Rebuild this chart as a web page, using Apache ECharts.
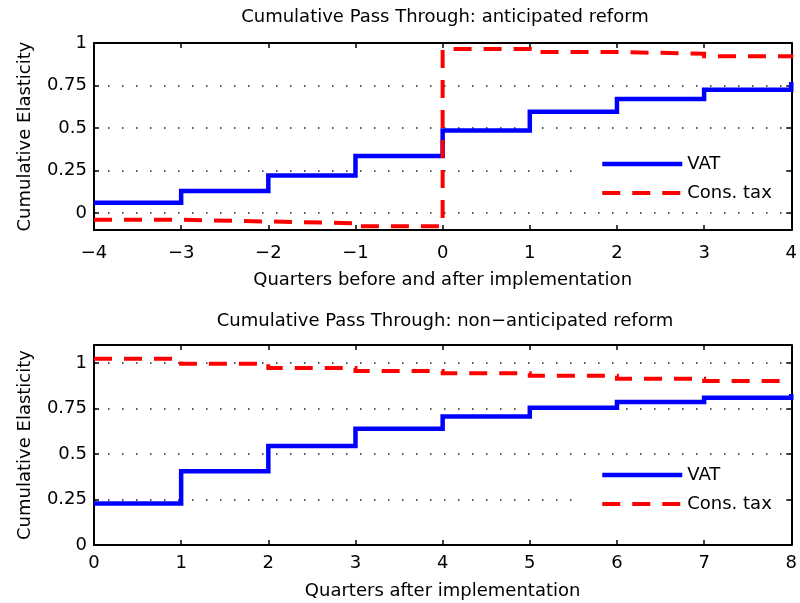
<!DOCTYPE html>
<html>
<head>
<meta charset="utf-8">
<script src="https://cdn.jsdelivr.net/npm/echarts@6/dist/echarts.min.js"></script>
<style>
html,body{margin:0;padding:0;background:#fff;}
#chart{width:800px;height:603px;}
</style>
</head>
<body>
<div id="chart"></div>
<script>
// ---- data ----
const quartersTop = [-4, -3, -2, -1, 0, 1, 2, 3, 4];
const vatTop = [0.06, 0.13, 0.22, 0.335, 0.485, 0.595, 0.67, 0.725, 0.77];
const consTop = [-0.04, -0.05, -0.06, -0.078, 0.965, 0.947, 0.937, 0.922, 0.91];

const quartersBottom = [0, 1, 2, 3, 4, 5, 6, 7, 8];
const vatBottom = [0.228, 0.405, 0.545, 0.64, 0.707, 0.755, 0.786, 0.81, 0.83];
const consBottom = [1.025, 0.997, 0.974, 0.957, 0.944, 0.931, 0.915, 0.902, 0.90];

const yTicks = [0, 0.25, 0.5, 0.75, 1];
const titles = ['Cumulative Pass Through: anticipated reform', 'Cumulative Pass Through: non\u2212anticipated reform'];
const xNames = ['Quarters before and after implementation', 'Quarters after implementation'];
const yName = 'Cumulative Elasticity';
const seriesNames = ['VAT', 'Cons. tax'];

// ---- chart ----
const FONT = 'DejaVu Sans';
const BLUE = '#0000ff', RED = '#ff0000';
const DASH = [18, 12];
const chart = echarts.init(document.getElementById('chart'));

const axisLineStyle = {show: true, onZero: false, lineStyle: {color: '#000', width: 2}};
const tickStyle = {show: true, inside: true, length: 5, lineStyle: {color: '#000', width: 1.5}};
const labelStyle = {color: '#000', fontFamily: FONT, fontSize: 18};
const fmtX = v => String(v).replace('-', '\u2212');

function xAxes(grid, min, max, margin, nameGap) {
  return [
    {type: 'value', gridIndex: grid, min: min, max: max, interval: 1, position: 'bottom',
     axisLine: axisLineStyle, axisTick: tickStyle,
     axisLabel: Object.assign({formatter: fmtX, margin: margin}, labelStyle),
     splitLine: {show: false},
     name: xNames[grid], nameLocation: 'middle', nameGap: nameGap,
     nameTextStyle: {color: '#000', fontFamily: FONT, fontSize: 18}},
    {type: 'value', gridIndex: grid, min: min, max: max, interval: 1, position: 'top',
     axisLine: axisLineStyle, axisTick: tickStyle, axisLabel: {show: false}, splitLine: {show: false}}
  ];
}
function yAxes(grid, min, max) {
  return [
    {type: 'value', gridIndex: grid, min: min, max: max, position: 'left',
     axisLine: axisLineStyle,
     axisTick: Object.assign({customValues: yTicks}, tickStyle),
     axisLabel: Object.assign({customValues: yTicks, margin: 7, formatter: v => String(v)}, labelStyle),
     splitLine: {show: true, lineStyle: {color: '#222', width: 1.5, type: [1.5, 12.5]}},
     name: yName, nameLocation: 'middle', nameGap: 60,
     nameTextStyle: {color: '#000', fontFamily: FONT, fontSize: 18}},
    {type: 'value', gridIndex: grid, min: min, max: max, position: 'right',
     axisLine: axisLineStyle,
     axisTick: Object.assign({customValues: yTicks}, tickStyle),
     axisLabel: {show: false, customValues: yTicks}, splitLine: {show: false}}
  ];
}

function mkSeries(name, xs, ys, xi, yi, color, dashed, z) {
  return {
    name: name, type: 'line', step: 'end', xAxisIndex: xi, yAxisIndex: yi,
    data: xs.map((x, i) => [x, ys[i]]),
    showSymbol: false, symbol: 'none', z: z,
    lineStyle: {color: color, width: dashed ? 4 : 4.5, type: dashed ? DASH : 'solid', cap: 'butt', join: 'miter'},
    itemStyle: {color: color},
    emphasis: {disabled: true}
  };
}

function legend(top, suffix) {
  return {
    show: true, orient: 'vertical', left: 577, top: top,
    backgroundColor: '#fff', padding: [10, 14, 8, 23],
    itemWidth: 80, itemHeight: 18, itemGap: 11,
    textStyle: {color: '#000', fontFamily: FONT, fontSize: 18, lineHeight: 18},
    itemStyle: {opacity: 0},
    formatter: n => n.trim(),
    data: [
      {name: seriesNames[0] + suffix, itemStyle: {opacity: 0},
       lineStyle: {color: BLUE, width: 4.5, type: 'solid', cap: 'butt'}},
      {name: seriesNames[1] + suffix, itemStyle: {opacity: 0},
       lineStyle: {color: RED, width: 4, type: DASH, cap: 'butt'}}
    ],
    selectedMode: false
  };
}

const option = {
  animation: false,
  backgroundColor: '#fff',
  title: [
    {text: titles[0], left: 445, top: 8, textAlign: 'center', padding: 0,
     textStyle: {color: '#000', fontFamily: FONT, fontSize: 18, fontWeight: 'normal'}},
    {text: titles[1], left: 445, top: 312, textAlign: 'center', padding: 0,
     textStyle: {color: '#000', fontFamily: FONT, fontSize: 18, fontWeight: 'normal'}}
  ],
  grid: [
    {left: 94, right: 2, top: 43, height: 187},
    {left: 94, right: 2, top: 345, height: 200}
  ],
  xAxis: [].concat(xAxes(0, -4, 4, 14, 41), xAxes(1, 0, 8, 9, 37)),
  yAxis: [].concat(yAxes(0, -0.1, 1), yAxes(1, 0, 1.1)),
  legend: [legend(145, ''), legend(456, ' ')],
  series: [
    mkSeries(seriesNames[1], quartersTop, consTop, 0, 0, RED, true, 3),
    mkSeries(seriesNames[0], quartersTop, vatTop, 0, 0, BLUE, false, 2),
    mkSeries(seriesNames[0] + ' ', quartersBottom, vatBottom, 2, 2, BLUE, false, 2),
    mkSeries(seriesNames[1] + ' ', quartersBottom, consBottom, 2, 2, RED, true, 3)
  ]
};
chart.setOption(option);
</script>
</body>
</html>
